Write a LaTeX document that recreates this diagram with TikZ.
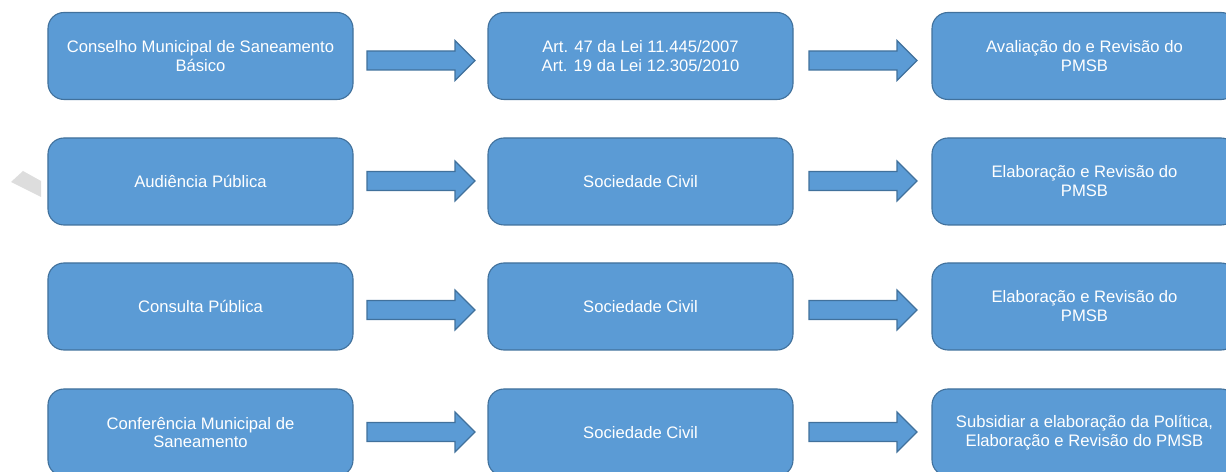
\documentclass[tikz,border=0pt]{standalone}
\usepackage{fontspec}
\setmainfont{Liberation Sans}
\begin{document}
\begin{tikzpicture}[x=1bp,y=-1bp,
  box/.style={draw=boxedge, fill=boxfill, line width=1.1bp, rounded corners=16bp,
    minimum width=305bp, minimum height=87bp, inner sep=0pt, align=center,
    text=white, font=\fontsize{16.7}{19}\selectfont},
  arrowstyle/.style={draw=boxedge, fill=boxfill, line width=1.1bp, line join=miter},
  barrow/.pic={\draw[arrowstyle] (0,-9.5) -- (88,-9.5) -- (88,-20) -- (108,0) -- (88,20) -- (88,9.5) -- (0,9.5) -- cycle;}
]
\definecolor{boxfill}{HTML}{5B9BD5}
\definecolor{boxedge}{HTML}{41719C}
\definecolor{wm}{HTML}{DDDDDD}
\useasboundingbox (0,0) rectangle (1226,472);
\clip (0,0) rectangle (1226,472);
% watermark fragment
\fill[wm] (11,182) -- (23,171) -- (41,181) -- (41,197) -- cycle;
% column centres 200.5, 640.5, 1084.5
\node[box] (a1) at (200.5,56) {Conselho Municipal de Saneamento\\Básico};
\node[box] (b1) at (640.5,56) {Art. 47 da Lei 11.445/2007\\Art. 19 da Lei 12.305/2010};
\node[box] (c1) at (1084.5,56) {Avaliação do e Revisão do\\PMSB};
\node[box] (a2) at (200.5,181.5) {Audiência Pública};
\node[box] (b2) at (640.5,181.5) {Sociedade Civil};
\node[box] (c2) at (1084.5,181.5) {Elaboração e Revisão do\\PMSB};
\node[box] (a3) at (200.5,306.5) {Consulta Pública};
\node[box] (b3) at (640.5,306.5) {Sociedade Civil};
\node[box] (c3) at (1084.5,306.5) {Elaboração e Revisão do\\PMSB};
\node[box] (a4) at (200.5,432.5) {Conferência Municipal de\\Saneamento};
\node[box] (b4) at (640.5,432.5) {Sociedade Civil};
\node[box] (c4) at (1084.5,432.5) {Subsidiar a elaboração da Política,\\Elaboração e Revisão do PMSB};
% block arrows
\pic at (367,60.5) {barrow};
\pic at (809,60.5) {barrow};
\pic at (367,181) {barrow};
\pic at (809,181) {barrow};
\pic at (367,310) {barrow};
\pic at (809,310) {barrow};
\pic at (367,432) {barrow};
\pic at (809,432) {barrow};
\end{tikzpicture}
\end{document}
